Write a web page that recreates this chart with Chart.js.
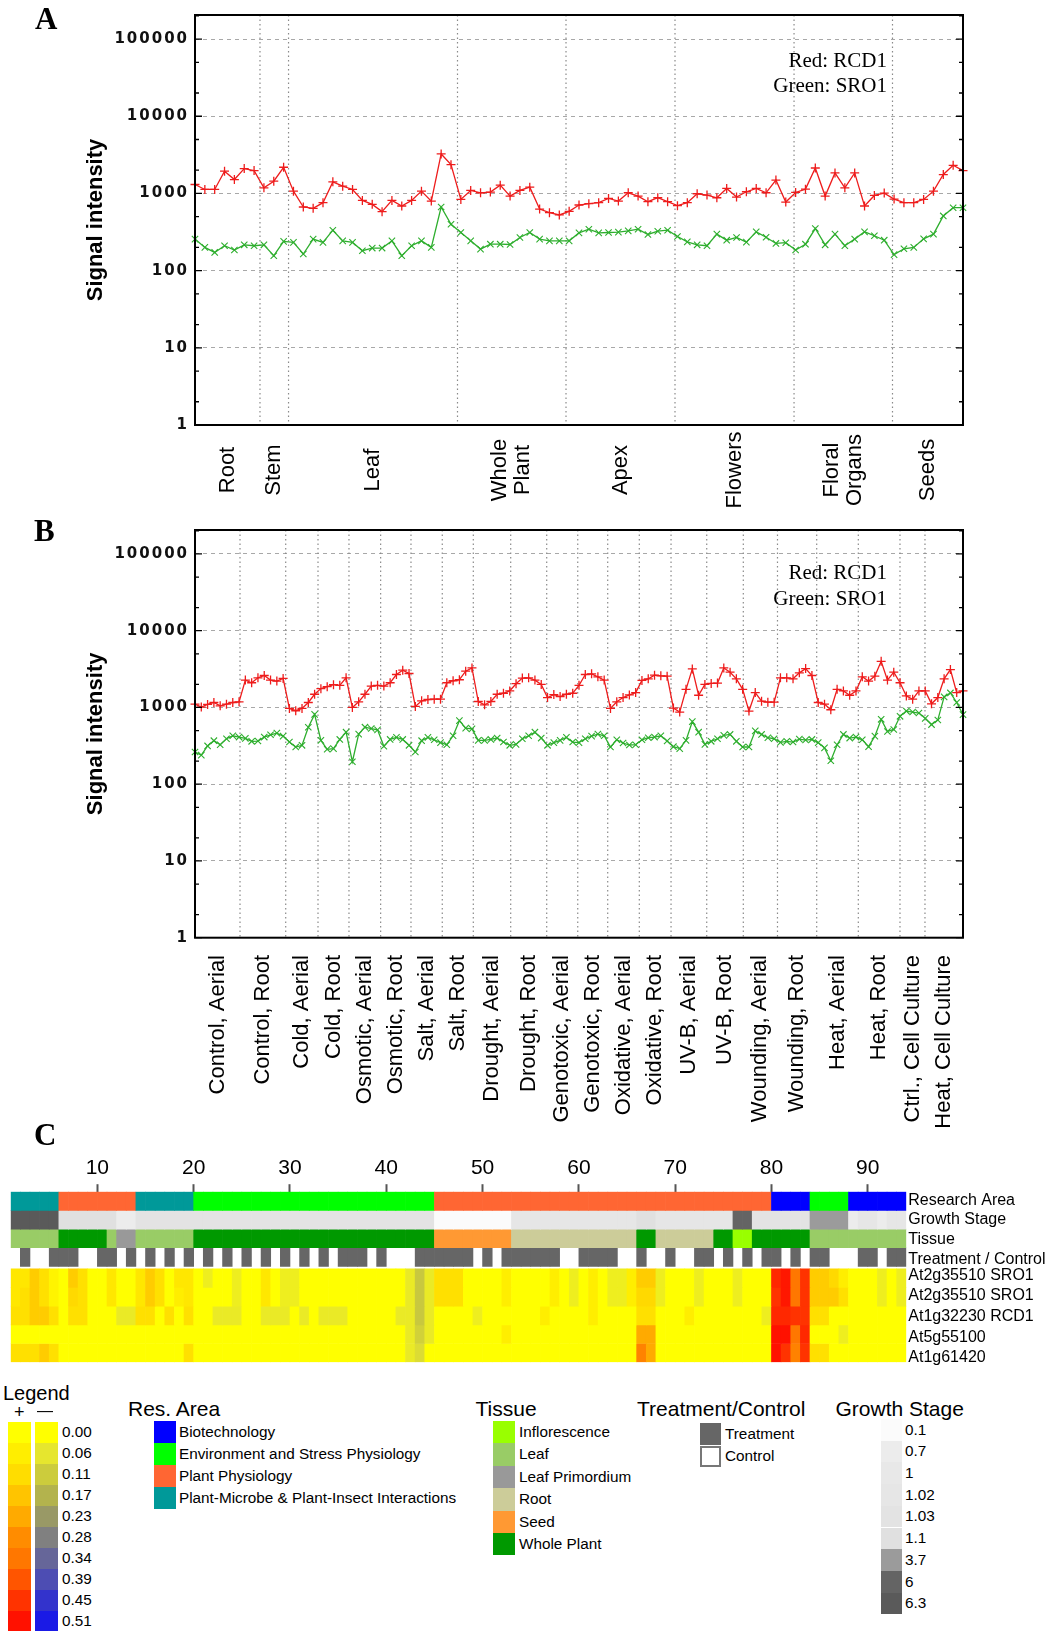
<!DOCTYPE html>
<html>
<head>
<meta charset="utf-8">
<script src="https://cdn.jsdelivr.net/npm/chart.js@4.4.1/dist/chart.umd.min.js"></script>
<style>
html,body{margin:0;padding:0;background:#fff;}
body{width:1053px;height:1631px;position:relative;overflow:hidden;font-family:"Liberation Sans",Arial,sans-serif;color:#000;}
canvas{position:absolute;left:0;}
</style>
</head>
<body>
<canvas id="chartA" width="1053" height="515" style="top:0px"></canvas>
<canvas id="chartB" width="1053" height="625" style="top:515px"></canvas>
<canvas id="chartC" width="1053" height="230" style="top:1140px"></canvas>
<script>
// ================= DATA =================
// Panel A : developmental series (79 samples)
const tissueGroupsA = ['Root', 'Stem', 'Leaf', ['Whole', 'Plant'], 'Apex', 'Flowers', ['Floral', 'Organs'], 'Seeds'];
const groupBoundsA = [6.6, 9.5, 26.66, 37.68, 48.75, 60.84, 70.84];
const rcd1A = [1306, 1126, 1126, 1940, 1514, 2098, 1977, 1183, 1442, 2183,
  1071, 667, 641, 759, 1413, 1243, 1126, 813, 722, 581,
  813, 687, 813, 1071, 796, 3246, 2361, 837, 1093, 1020,
  1040, 1280, 924, 1093, 1207, 628, 564, 526, 586, 708,
  736, 759, 862, 796, 1020, 924, 781, 879, 781, 694,
  759, 990, 952, 879, 1160, 897, 1051, 1160, 1020, 1490,
  773, 1030, 1137, 2137, 924, 1845, 1183, 1845, 687, 942,
  1010, 845, 759, 759, 837, 1071, 1758, 2316, 1977];
const sro1A = [256, 200, 172, 210, 185, 216, 210, 216, 156, 239,
  232, 164, 256, 232, 334, 243, 232, 181, 196, 196,
  243, 156, 210, 243, 200, 667, 399, 312, 243, 190,
  220, 220, 218, 269, 312, 256, 243, 243, 243, 308,
  344, 308, 312, 315, 327, 344, 294, 324, 334, 277,
  236, 216, 210, 297, 248, 269, 234, 318, 271, 225,
  230, 185, 220, 351, 216, 297, 210, 256, 318, 283,
  248, 161, 192, 200, 258, 297, 511, 653, 653];

// Panel B : stress series (123 samples)
const stressGroupsB = ['Control, Aerial', 'Control, Root', 'Cold, Aerial', 'Cold, Root', 'Osmotic, Aerial', 'Osmotic, Root',
  'Salt, Aerial', 'Salt, Root', 'Drought, Aerial', 'Drought, Root', 'Genotoxic, Aerial', 'Genotoxic, Root',
  'Oxidative, Aerial', 'Oxidative, Root', 'UV-B, Aerial', 'UV-B, Root', 'Wounding, Aerial', 'Wounding, Root',
  'Heat, Aerial', 'Heat, Root', 'Ctrl., Cell Culture', 'Heat, Cell Culture'];
const groupBoundsB = [7.15, 14.41, 19.54, 24.46, 29.49, 34.31, 39.28, 44.21, 50.15, 55.87, 60.80, 65.56,
  70.58, 75.62, 81.29, 87.10, 92.53, 98.76, 105.37, 111.99, 115.96];
const rcd1B = [1104, 1010, 1093, 1160, 1050, 1104, 1160, 1183, 2270, 2098,
  2432, 2606, 2270, 2203, 2387, 971, 906, 971, 1160, 1486,
  1758, 1864, 1977, 1940, 2432, 1000, 1183, 1486, 1900, 1940,
  1900, 2098, 2686, 3054, 2767, 1030, 1218, 1268, 1280, 1280,
  2098, 2228, 2296, 2965, 3273, 1195,
  1082, 1195, 1486, 1530, 1640, 2037, 2411, 2432, 2270, 1996,
  1345, 1469, 1385, 1486, 1530, 1940, 2686, 2740, 2507, 2270,
  971, 1183, 1345, 1455, 1560, 2249, 2361, 2634, 2583, 2558,
  980, 871, 1722, 3177, 1441, 1996, 2056, 2078, 3273, 2877,
  2361, 1722, 897, 1560, 1207, 1172, 1172,
  2432, 2432, 2361, 2823, 3206, 2606, 1160, 1104, 933, 1722,
  1640, 1441, 1640, 2507, 2203, 2558, 3990, 2270, 2877, 2098,
  1413, 1280, 1640, 1640, 1115, 1345, 2361, 3117, 1560, 1640];
const sro1B = [263, 239, 315, 369, 327, 391, 427, 411, 395, 362,
  365, 411, 440, 463, 423, 354, 305, 321, 552, 812,
  372, 285, 291, 383, 476, 196, 449, 553, 531, 510,
  312, 383, 407, 383, 321, 263, 369, 407, 379, 348,
  327, 427, 673, 537, 526, 372,
  372, 383, 399, 354, 321, 330, 391, 427, 476, 399,
  321, 348, 372, 407, 354, 348, 391, 423, 449, 427,
  305, 379, 344, 324, 327, 379, 403, 411, 427, 365,
  308, 291, 372, 654, 476, 330, 362, 391, 432, 445,
  362, 305, 305, 495, 445, 403, 391,
  351, 362, 354, 387, 376, 383, 348, 297, 202, 327,
  445, 399, 411, 379, 308, 423, 700, 486, 516, 766,
  897, 871, 845, 721, 598, 687, 1372, 1545, 1160, 805];
const yTickValues = [1, 10, 100, 1000, 10000, 100000];

// Panel C : heatmap (93 arrays/experiments)
const columnTicks = [10, 20, 30, 40, 50, 60, 70, 80, 90];
const researchArea = ['M','M','M','M','M','P','P','P','P','P','P','P','P','M','M','M','M','M','M',
  'E','E','E','E','E','E','E','E','E','E','E','E','E','E','E','E','E','E','E','E','E','E','E','E','E',
  'P','P','P','P','P','P','P','P','P','P','P','P','P','P','P','P','P','P','P','P','P','P','P','P','P',
  'P','P','P','P','P','P','P','P','P','P','B','B','B','B','E','E','E','E','B','B','B','B','B','B'];
const growthStage = [6.3,6.3,6.3,6.3,6.3,1.1,1.1,1.1,1.1,1.1,1.1,0.7,0.7,
  1.03,1.03,1.03,1.03,1.03,1.03,1.03,1.03,1.03,1.03,1.03,1.03,1.03,1.03,1.03,1.03,1.03,1.03,1.03,1.03,1.03,
  1.03,1.03,1.03,1.03,1.03,1.03,1.03,1.03,1.03,1.03,
  0.1,0.1,0.1,0.1,0.1,0.1,0.1,0.1,
  1.02,1.02,1.02,1.02,1.02,1.02,1.02,1.02,1.02,1.02,1.02,1.02,1.02,1.1,1.1,1.02,1.02,1.02,1.02,1.02,1.02,1.02,1.02,
  6,6,1.03,1.03,1.03,1.03,1.03,1.03,3.7,3.7,3.7,3.7,0.7,1.02,1.02,0.7,1.02,1.02];
const tissue = ['L','L','L','L','L','W','W','W','W','W','L','LP','LP','L','L','L','L','L','L',
  'W','W','W','W','W','W','W','W','W','W','W','W','W','W','W','W','W','W','W','W','W','W','W','W','W',
  'S','S','S','S','S','S','S','S','R','R','R','R','R','R','R','R','R','R','R','R','R','W','W',
  'R','R','R','R','R','R','W','W','I','I','W','W','W','W','W','W','L','L','L','L','L','L','L','L','L','L'];
const treatment = [0,1,0,0,1,1,1,0,0,1, 1,0,1,0,1,0,1,0,1,0, 1,0,1,0,1,0,1,0,1,0,
  1,0,1,0,1,1,1,0,1,0, 0,0,1,1,1,1,1,1,0,1, 0,1,1,1,1,1,1,0,0,1,
  1,1,1,0,0,1,0,0,1,0, 0,1,1,0,1,0,1,0,1,1, 0,1,0,1,1,0,0,0,1,1, 0,1,1];
const heatSRO1a = [.08,.08,.15,.1,.04,0,.15,.1,0,0, .08,0,0,.08,.15,.1,0,.08,.08,0,
  -.04,0,0,-.04,0,0,.08,0,-.04,-.04, 0,0,0,0,0,0,0,0,0,0,
  0,-.05,-.12,-.05,.1,.1,.1,0,0,0, 0,.06,0,0,0,0,.06,0,-.04,0,
  .06,0,-.04,-.04,.06,.15,.15,-.04,0,0, 0,-.04,0,0,0,-.04,0,0,0,.47,
  .5,.34,.45,.15,.15,.12,.06,0,0,0, -.04,0,-.04];
const heatSRO1b = [.08,.1,.15,.1,.04,0,.12,.1,0,0, .08,0,0,.08,.15,.1,0,.06,.08,0,
  0,0,0,-.04,0,0,.08,0,-.04,-.04, 0,0,0,0,0,0,0,0,0,0,
  0,-.05,-.12,-.05,.1,.1,.1,0,0,0, 0,.06,0,0,0,0,.06,0,-.04,0,
  .06,0,-.04,-.04,.06,.12,.12,-.04,0,0, 0,-.04,0,0,0,-.04,0,0,0,.45,
  .5,.34,.45,.15,.15,.15,.1,0,0,0, -.04,0,-.04];
const heatRCD1 = [.1,.1,.15,.15,.1,0,.1,.1,0,0, 0,-.05,-.05,.1,.1,0,.1,0,.1,0,
  0,-.05,-.05,-.05,0,0,-.05,-.05,-.05,0, -.05,0,-.05,-.05,-.05,0,0,0,0,0,
  -.05,-.05,-.12,-.05,0,0,0,0,-.04,0, 0,0,0,0,0,.06,0,0,0,0,
  .06,0,0,0,0,.1,.1,0,0,0, .06,0,0,0,0,0,0,0,-.04,.47,
  .47,.45,.45,.1,.1,0,0,0,0,0, 0,0,0];
const heatAt5g55100 = [0,0,0,0,0,0,0,0,0,0, 0,0,0,0,0,0,0,0,0,0,
  0,0,0,0,0,0,0,0,0,0, 0,0,0,0,0,0,0,0,0,0,
  0,-.05,-.1,-.05,0,0,0,0,0,0, 0,.06,0,0,0,0,0,0,0,0,
  0,0,0,0,0,.23,.23,0,0,0, 0,0,0,0,0,0,0,0,0,.51,
  .51,.34,.47,0,0,0,-.04,0,0,0, 0,0,0];
const heatAt1g61420 = [.1,.1,.1,.15,.1,0,0,0,0,0, 0,0,0,0,0,0,0,0,.1,0,
  0,0,0,0,0,0,0,0,0,0, 0,0,0,0,0,0,0,0,0,0,
  0,-.05,-.08,0,0,0,0,0,0,0, 0,0,0,0,0,0,0,0,0,0,
  0,0,0,0,0,.31,.23,0,0,0, 0,0,0,0,0,0,0,0,0,.51,
  .45,.31,.45,.1,.1,0,0,0,0,0, 0,0,0];
const trackLabels = ['Research Area', 'Growth Stage', 'Tissue', 'Treatment / Control',
  'At2g35510 SRO1', 'At2g35510 SRO1', 'At1g32230 RCD1', 'At5g55100', 'At1g61420'];
const legendLevels = [0, 0.06, 0.11, 0.17, 0.23, 0.28, 0.34, 0.39, 0.45, 0.51];
const posColors = ['#ffff00','#ffee00','#ffdd00','#ffc400','#ffaa00','#ff8c00','#ff7700','#ff5500','#ff3300','#ff1100'];
const negColors = ['#ffff00','#e6e62e','#cccc3c','#b3b34d','#999966','#808080','#666699','#4d4db3','#3333cc','#1a1ae6'];
const researchAreaNames = [['B','Biotechnology'],['E','Environment and Stress Physiology'],['P','Plant Physiology'],['M','Plant-Microbe & Plant-Insect Interactions']];
const researchAreaColors = {B:'#0000ff', E:'#00ff00', P:'#ff6633', M:'#009999'};
const tissueNames = [['I','Inflorescence'],['L','Leaf'],['LP','Leaf Primordium'],['R','Root'],['S','Seed'],['W','Whole Plant']];
const tissueColors = {I:'#99ff00', L:'#99cc66', LP:'#999999', R:'#cccc99', S:'#ff9933', W:'#009900'};
const growthLevels = [0.1, 0.7, 1, 1.02, 1.03, 1.1, 3.7, 6, 6.3];
const growthColors = ['#fbfbfb','#ececec','#e8e8e8','#e6e6e6','#e3e3e3','#e0e0e0','#9b9b9b','#646464','#5a5a5a'];
const treatmentNames = ['Treatment', 'Control'];

// ================= HELPERS =================
Chart.defaults.font.family = '"Liberation Sans", Arial, sans-serif';
const SANS = '"Liberation Sans", Arial, sans-serif';
const SERIF = '"Liberation Serif", "Times New Roman", serif';
const RED = '#ee1c1c', GREEN = '#2eae2e';

function centersOf(bounds, n) {
  const e = [0, ...bounds, n - 1];
  const c = [];
  for (let i = 0; i < e.length - 1; i++) c.push((e[i] + e[i + 1]) / 2);
  return c;
}
function hex(c) { return [parseInt(c.slice(1,3),16), parseInt(c.slice(3,5),16), parseInt(c.slice(5,7),16)]; }
function mix(a, b, t) {
  const A = hex(a), B = hex(b);
  return 'rgb(' + A.map((v, i) => Math.round(v + (B[i] - v) * t)).join(',') + ')';
}
function valueColor(v) {
  const cols = v >= 0 ? posColors : negColors;
  const a = Math.abs(v);
  for (let i = 0; i < legendLevels.length - 1; i++) {
    if (a <= legendLevels[i + 1]) {
      const t = (a - legendLevels[i]) / (legendLevels[i + 1] - legendLevels[i]);
      return mix(cols[i], cols[i + 1], t);
    }
  }
  return cols[cols.length - 1];
}
function growthColor(v) { return growthColors[growthLevels.indexOf(v)]; }

function txt(s, x, yc, size, o = {}) {
  const d = document.createElement('div');
  d.textContent = s;
  let css = 'position:absolute;white-space:nowrap;line-height:1.15;font-size:' + size + 'px;top:' + yc + 'px;transform:translateY(-50%);';
  css += (o.right != null) ? 'right:' + (1053 - o.right) + 'px;text-align:right;' : 'left:' + x + 'px;';
  if (o.family) css += 'font-family:' + o.family + ';';
  if (o.bold) css += 'font-weight:bold;';
  d.style.cssText = css;
  document.body.appendChild(d);
}
function box(x, y, w, h, color, border) {
  const d = document.createElement('div');
  d.style.cssText = 'position:absolute;left:' + x + 'px;top:' + y + 'px;width:' + w + 'px;height:' + h + 'px;background:' + color + ';box-sizing:border-box;' + (border ? 'border:' + border + ';' : '');
  document.body.appendChild(d);
}

// ================= PLUGIN FOR PANELS A/B =================
const panelDeco = {
  id: 'panelDeco',
  beforeDraw(chart) { chart.ctx.letterSpacing = '2px'; },
  beforeDatasetsDraw(chart, args, o) {
    const ctx = chart.ctx, ca = chart.chartArea, x = chart.scales.x;
    ctx.save();
    ctx.letterSpacing = '0px';
    ctx.strokeStyle = '#8a8a8a'; ctx.lineWidth = 1.2; ctx.setLineDash([1.5, 3]);
    for (const b of o.bounds) {
      const px = x.getPixelForValue(b);
      ctx.beginPath(); ctx.moveTo(px, ca.top); ctx.lineTo(px, ca.bottom); ctx.stroke();
    }
    ctx.restore();
  },
  afterDraw(chart, args, o) {
    const ctx = chart.ctx, ca = chart.chartArea, x = chart.scales.x, y = chart.scales.y;
    ctx.save();
    ctx.letterSpacing = '0px';
    ctx.setLineDash([]);
    ctx.strokeStyle = '#000'; ctx.lineWidth = 1.3;
    for (let e = 0; e <= 5; e++) {
      for (const m of [1, 2, 5]) {
        const v = m * Math.pow(10, e);
        if (v > y.max) continue;
        const py = y.getPixelForValue(v);
        const len = m === 1 ? 7 : 4;
        ctx.beginPath();
        ctx.moveTo(ca.left, py); ctx.lineTo(ca.left + len, py);
        ctx.moveTo(ca.right, py); ctx.lineTo(ca.right - len, py);
        ctx.stroke();
      }
    }
    ctx.lineWidth = 2;
    ctx.strokeRect(ca.left, ca.top, ca.right - ca.left, ca.bottom - ca.top);
    // group labels
    ctx.fillStyle = '#000';
    ctx.font = '22px ' + SANS;
    ctx.textBaseline = 'middle';
    ctx.textAlign = o.align;
    o.labels.forEach((lab, i) => {
      const c = x.getPixelForValue(o.centers[i]);
      const lines = Array.isArray(lab) ? lab : [lab];
      ctx.save();
      ctx.translate(c, o.labelY);
      ctx.rotate(-Math.PI / 2);
      lines.forEach((t, k) => ctx.fillText(t, 0, (k - (lines.length - 1) / 2) * o.lineH));
      ctx.restore();
    });
    // y title
    ctx.font = 'bold 22px ' + SANS;
    ctx.textAlign = 'center';
    ctx.translate(96, (ca.top + ca.bottom) / 2);
    ctx.rotate(-Math.PI / 2);
    ctx.fillText('Signal intensity', 0, 0);
    ctx.restore();
  }
};

function lineChart(id, red, green, padTop, padBottom, deco) {
  const n = red.length;
  const labels = Array.from({length: n}, (_, i) => i);
  return new Chart(document.getElementById(id), {
    type: 'line',
    data: {
      labels,
      datasets: [
        {label: 'RCD1', data: red, borderColor: RED, backgroundColor: RED, borderWidth: 1.3,
         pointStyle: 'cross', pointRadius: 4.5, pointBorderWidth: 1.3, pointBorderColor: RED, tension: 0},
        {label: 'SRO1', data: green, borderColor: GREEN, backgroundColor: GREEN, borderWidth: 1.3,
         pointStyle: 'crossRot', pointRadius: 4.5, pointBorderWidth: 1.1, pointBorderColor: GREEN, tension: 0}
      ]
    },
    options: {
      responsive: false, animation: false, events: [],
      layout: {padding: {left: 0, right: 90, top: padTop, bottom: padBottom}},
      plugins: {legend: {display: false}, tooltip: {enabled: false}, panelDeco: deco},
      scales: {
        x: {type: 'category', offset: false, display: false},
        y: {
          type: 'logarithmic', min: 1, max: 205000,
          afterFit(s) { s.width = 195; },
          afterBuildTicks(s) { s.ticks = yTickValues.map(v => ({value: v})); },
          ticks: {callback: v => String(v), font: {family: '"DejaVu Sans"', weight: 'bold', size: 15}, color: '#111', padding: 6, autoSkip: false},
          grid: {color: '#a8a8a8', lineWidth: 1, drawTicks: false},
          border: {display: false, dash: [4, 4]}
        }
      }
    },
    plugins: [panelDeco]
  });
}

lineChart('chartA', rcd1A, sro1A, 13.3, 90, {
  bounds: groupBoundsA, centers: centersOf(groupBoundsA, rcd1A.length),
  labels: tissueGroupsA, labelY: 470, align: 'center', lineH: 23
});
lineChart('chartB', rcd1B, sro1B, 11, 202.3, {
  bounds: groupBoundsB, centers: centersOf(groupBoundsB, rcd1B.length),
  labels: stressGroupsB, labelY: 440, align: 'right', lineH: 23
});

// ================= PANEL C =================
const nCols = researchArea.length;
const colX = Array.from({length: nCols}, (_, i) => i + 1.5);
function track(top, bottom, colors) {
  return {
    data: colX.map(x => ({x, y: [top, bottom]})),
    backgroundColor: colors, borderWidth: 0, grouped: false,
    barPercentage: 1, categoryPercentage: 1, xAxisID: 'x', yAxisID: 'y'
  };
}
const heatRows = [heatSRO1a, heatSRO1b, heatRCD1, heatAt5g55100, heatAt1g61420];
const HEAT_TOP = 4.12;
const Y_MAX = HEAT_TOP + heatRows.length;
const datasetsC = [
  track(0, 1, researchArea.map(c => researchAreaColors[c])),
  track(1, 2, growthStage.map(growthColor)),
  track(2, 3, tissue.map(c => tissueColors[c])),
  track(3, 4, treatment.map(t => t ? '#666666' : 'rgba(255,255,255,0)')),
  ...heatRows.map((row, r) => track(HEAT_TOP + r, HEAT_TOP + r + 1, row.map(valueColor)))
];
const labelPos = [0.45, 1.5, 2.55, 3.63, 4.47, 5.58, 6.69, 7.8, 8.9];

new Chart(document.getElementById('chartC'), {
  type: 'bar',
  data: {datasets: datasetsC},
  options: {
    responsive: false, animation: false, events: [],
    layout: {padding: {left: 10.7, right: 0, top: 0, bottom: 7.8}},
    plugins: {legend: {display: false}, tooltip: {enabled: false}},
    scales: {
      x: {
        type: 'linear', position: 'top', min: 1, max: nCols + 1, offset: false,
        afterFit(s) { s.height = 51.7; s.paddingLeft = 0; s.paddingRight = 0; },
        afterBuildTicks(s) { s.ticks = columnTicks.map(v => ({value: v})); },
        ticks: {font: {size: 21}, color: '#000', padding: 3.6, autoSkip: false, maxRotation: 0},
        grid: {drawOnChartArea: false, drawTicks: true, tickLength: 7.5, tickColor: '#555', tickWidth: 2, offset: false},
        border: {display: false}
      },
      y: {type: 'linear', min: 0, max: Y_MAX, reverse: true, display: false},
      yr: {
        type: 'linear', position: 'right', min: 0, max: Y_MAX, reverse: true,
        afterFit(s) { s.width = 1053 - 906.3; s.paddingTop = 0; s.paddingBottom = 0; },
        afterBuildTicks(s) { s.ticks = labelPos.map(v => ({value: v})); },
        ticks: {callback: (v, i) => trackLabels[i], font: {size: 16}, color: '#000', padding: 2, autoSkip: false},
        grid: {display: false, drawTicks: false}, border: {display: false}
      }
    }
  }
});

// ================= TEXT / LEGENDS (HTML) =================
txt('A', 35, 19, 31, {family: SERIF, bold: true});
txt('B', 34, 530.5, 31, {family: SERIF, bold: true});
txt('C', 34, 1134.5, 31, {family: SERIF, bold: true});
txt('Red: RCD1', 0, 60.3, 21, {family: SERIF, right: 887});
txt('Green: SRO1', 0, 85.3, 21, {family: SERIF, right: 887});
txt('Red: RCD1', 0, 572.3, 21, {family: SERIF, right: 887});
txt('Green: SRO1', 0, 598.3, 21, {family: SERIF, right: 887});

// Value legend
txt('Legend', 3, 1393, 20);
txt('+', 14, 1412, 18);
txt('\u2014', 37, 1411, 16);
legendLevels.forEach((lv, i) => {
  const y0 = 1421.7 + 21 * i;
  box(8, y0, 23, 21, posColors[i]);
  box(35, y0, 23, 21, negColors[i]);
  txt(lv.toFixed(2), 62, y0 + 10.5, 15.3);
});
// Research area legend
txt('Res. Area', 128, 1409, 21);
researchAreaNames.forEach(([k, name], i) => {
  box(154, 1421 + 22 * i, 22, 22, researchAreaColors[k]);
  txt(name, 179, 1432 + 22 * i, 15.3);
});
// Tissue legend
txt('Tissue', 475.5, 1409, 21);
tissueNames.forEach(([k, name], i) => {
  box(493, 1421 + 22.4 * i, 22, 22.4, tissueColors[k]);
  txt(name, 519, 1432 + 22.4 * i, 15.3);
});
// Treatment / control legend
txt('Treatment/Control', 637, 1409, 21);
box(700, 1423, 21, 22, '#666666');
txt(treatmentNames[0], 725, 1434, 15.3);
box(700, 1446, 21, 21, '#ffffff', '2px solid #777');
txt(treatmentNames[1], 725, 1456, 15.3);
// Growth stage legend
txt('Growth Stage', 835.5, 1409, 21);
growthLevels.forEach((lv, i) => {
  box(881, 1419 + 21.7 * i, 21, 21.7, growthColors[i]);
  txt(String(lv), 905, 1429.6 + 21.7 * i, 15.3);
});
</script>
</body>
</html>
